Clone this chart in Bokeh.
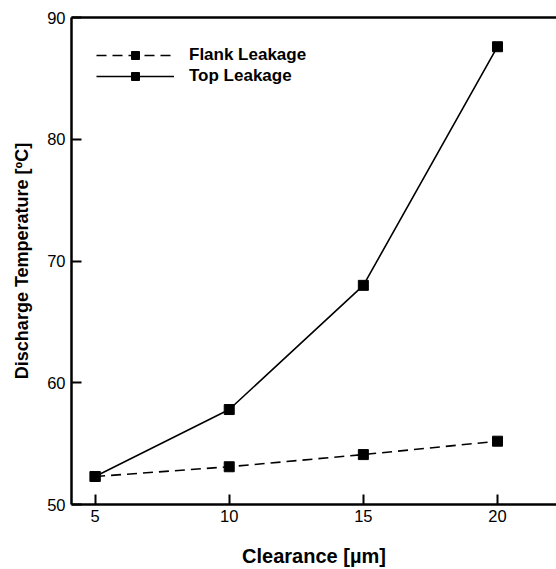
from bokeh.plotting import figure
from bokeh.models import LinearAxis, Range1d, Legend, LegendItem, FixedTicker
from bokeh.embed import file_html
from bokeh.resources import INLINE

clearance = [5, 10, 15, 20]
flank = [52.3, 53.1, 54.1, 55.2]
top = [52.3, 57.8, 68.0, 87.6]
x_ticks = [5, 10, 15, 20]
y_ticks = [50, 60, 70, 80, 90]

FONT = "Liberation Sans"

p = figure(width=556, height=569, output_backend="svg", toolbar_location=None,
           x_range=Range1d(4.12, 22.2), y_range=Range1d(50, 90),
           min_border_left=71, min_border_right=0, min_border_top=17, min_border_bottom=65,
           x_axis_label="Clearance [µm]", y_axis_label="Discharge Temperature [ºC]")
p.outline_line_color = None
p.grid.visible = False
p.background_fill_color = "white"

for ax in [p.xaxis[0], p.yaxis[0]]:
    ax.axis_line_width = 2.5
    ax.major_tick_in = 10
    ax.major_tick_out = 0
    ax.minor_tick_in = 0
    ax.minor_tick_out = 0
    ax.major_tick_line_width = 2
    ax.major_label_text_font = FONT
    ax.major_label_text_font_size = "16.5px"
    ax.major_label_text_color = "black"
    ax.axis_label_text_font = FONT
    ax.axis_label_text_font_style = "bold"
    ax.axis_label_text_color = "black"
p.xaxis[0].axis_label_text_font_size = "20px"
p.yaxis[0].axis_label_text_font_size = "18px"
p.xaxis[0].ticker = FixedTicker(ticks=x_ticks)
p.yaxis[0].ticker = FixedTicker(ticks=y_ticks)
p.xaxis[0].axis_label_standoff = 20
p.yaxis[0].axis_label_standoff = 12
p.xaxis[0].major_label_standoff = 5
p.yaxis[0].major_label_standoff = 6

top_ax = LinearAxis(ticker=FixedTicker(ticks=[]), axis_line_width=2.5,
                    major_label_text_font_size="0px", major_tick_in=0, major_tick_out=0,
                    minor_tick_in=0, minor_tick_out=0)
p.add_layout(top_ax, "above")

l1 = p.line(clearance, flank, line_color="black", line_width=1.6, line_dash="10 6")
s1 = p.scatter(clearance, flank, marker="square", size=10, fill_color="black", line_color="black")
l2 = p.line(clearance, top, line_color="black", line_width=1.6)
s2 = p.scatter(clearance, top, marker="square", size=10, fill_color="black", line_color="black")

legend = Legend(items=[LegendItem(label="Flank Leakage", renderers=[l1, s1]),
                       LegendItem(label="Top Leakage", renderers=[l2, s2])],
                location=(25, 418))
legend.border_line_color = None
legend.background_fill_alpha = 0
legend.label_text_font = FONT
legend.label_text_font_style = "bold"
legend.label_text_font_size = "17px"
legend.label_text_color = "black"
legend.glyph_width = 78
legend.glyph_height = 20
legend.label_height = 20
legend.spacing = 1
legend.margin = 0
legend.padding = 0
legend.label_standoff = 15
p.add_layout(legend)

open("out.html", "w").write(file_html(p, INLINE))
